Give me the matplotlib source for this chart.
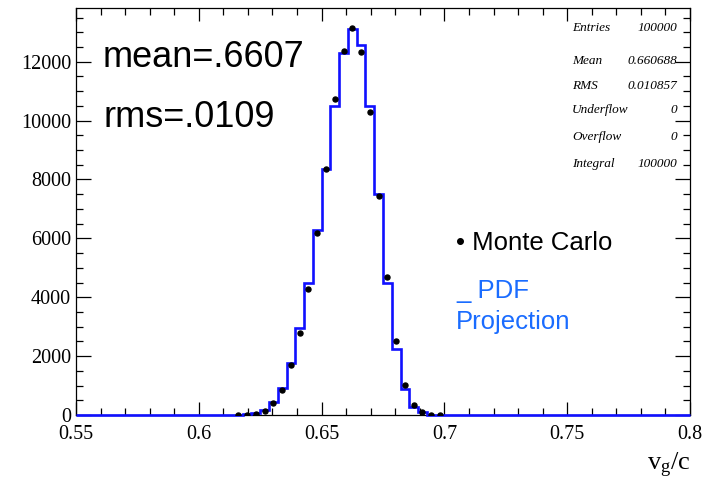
import numpy as np
import matplotlib
matplotlib.use("Agg")
import matplotlib.pyplot as plt
from matplotlib.ticker import MultipleLocator, FixedLocator

plt.rcParams['mathtext.fontset'] = 'custom'
plt.rcParams['mathtext.rm'] = 'Liberation Serif'
plt.rcParams['mathtext.it'] = 'Liberation Serif:italic'

# ---- data ----
x_min, x_max, n_bins = 0.55, 0.80, 70
first_bin = 18
mc_counts = [5, 10, 25, 146, 397, 848, 1695, 2790, 4282, 6180, 8340, 10723,
             12374, 13143, 12340, 10296, 7424, 4688, 2509, 1017, 339, 92, 15, 5]
pdf_counts = [5, 20, 70, 170, 430, 930, 1760, 2940, 4480, 6285, 8360, 10510,
              12280, 13120, 12580, 10490, 7515, 4498, 2227, 892, 281, 85, 15, 3]
x_ticks = [0.55, 0.6, 0.65, 0.7, 0.75, 0.8]
x_tick_labels = ["0.55", "0.6", "0.65", "0.7", "0.75", "0.8"]
y_ticks = [0, 2000, 4000, 6000, 8000, 10000, 12000]
y_tick_labels = ["0", "2000", "4000", "6000", "8000", "10000", "12000"]
stats_names = ["Entries", "Mean", "RMS", "Underflow", "Overflow", "Integral"]
stats_values = ["100000", "0.660688", "0.010857", "0", "0", "100000"]

edges = np.linspace(x_min, x_max, n_bins + 1)
centers = 0.5 * (edges[:-1] + edges[1:])
pdf_full = np.zeros(n_bins)
pdf_full[first_bin:first_bin + len(pdf_counts)] = pdf_counts
mc_idx = np.arange(first_bin, first_bin + len(mc_counts))

W, H = 711, 483
fig = plt.figure(figsize=(W / 100, H / 100), dpi=100)
ax = fig.add_axes([76 / W, 1 - 415 / H, (690 - 76) / W, (415 - 7.5) / H])

ax.stairs(pdf_full, edges, color='#1010ff', lw=1.9, zorder=3, clip_on=False)
ax.plot(centers[mc_idx], mc_counts, 'o', color='black', ms=3.6, zorder=4)

ax.set_xlim(x_min, x_max)
ax.set_ylim(0, 13840)

ax.xaxis.set_major_locator(FixedLocator(x_ticks))
ax.set_xticklabels(x_tick_labels)
ax.xaxis.set_minor_locator(MultipleLocator(0.01))
ax.yaxis.set_major_locator(FixedLocator(y_ticks))
ax.set_yticklabels(y_tick_labels)
ax.yaxis.set_minor_locator(MultipleLocator(500))

ax.tick_params(axis='x', which='major', direction='in', length=9.4, width=0.9,
               top=True, bottom=True, pad=7.5)
ax.tick_params(axis='x', which='minor', direction='in', length=4.7, width=0.9,
               top=True, bottom=True)
ax.tick_params(axis='y', which='major', direction='in', length=10.5, width=0.9,
               left=True, right=True, pad=3.5)
ax.tick_params(axis='y', which='minor', direction='in', length=5.3, width=0.9,
               left=True, right=True)
for lab in ax.get_xticklabels() + ax.get_yticklabels():
    lab.set_fontfamily('Liberation Serif')
    lab.set_fontsize(14.5)
for s in ax.spines.values():
    s.set_linewidth(0.9)

def px(x, y):
    return x / W, 1 - y / H

# big annotations
fig.text(*px(103, 66.7), "mean=.6607", family='Liberation Sans', fontsize=26,
         ha='left', va='baseline')
fig.text(*px(103, 126.7), "rms=.0109", family='Liberation Sans', fontsize=26,
         ha='left', va='baseline')
fig.text(*px(456, 250), "\u2022 Monte Carlo", family='Liberation Sans', fontsize=18.5,
         ha='left', va='baseline', color='black')
fig.text(*px(456, 298), "_ PDF", family='Liberation Sans', fontsize=18.5,
         ha='left', va='baseline', color='#1a6cff')
fig.text(*px(456, 329), "Projection", family='Liberation Sans', fontsize=18.5,
         ha='left', va='baseline', color='#1a6cff')

# stats box
stat_y = [28.3, 61, 86, 110, 137, 164]
for name, val, yy in zip(stats_names, stats_values, stat_y):
    fig.text(*px(572, yy), name, family='Liberation Serif', style='italic',
             fontsize=9.5, ha='left', va='center')
    fig.text(*px(677, yy), val, family='Liberation Serif', style='italic',
             fontsize=9.5, ha='right', va='center')

# x label
fig.text(*px(690, 470), r"v$_{\mathrm{g}}$/c", family='Liberation Serif',
         fontsize=19, ha='right', va='baseline')

fig.savefig("out.png", dpi=100)
